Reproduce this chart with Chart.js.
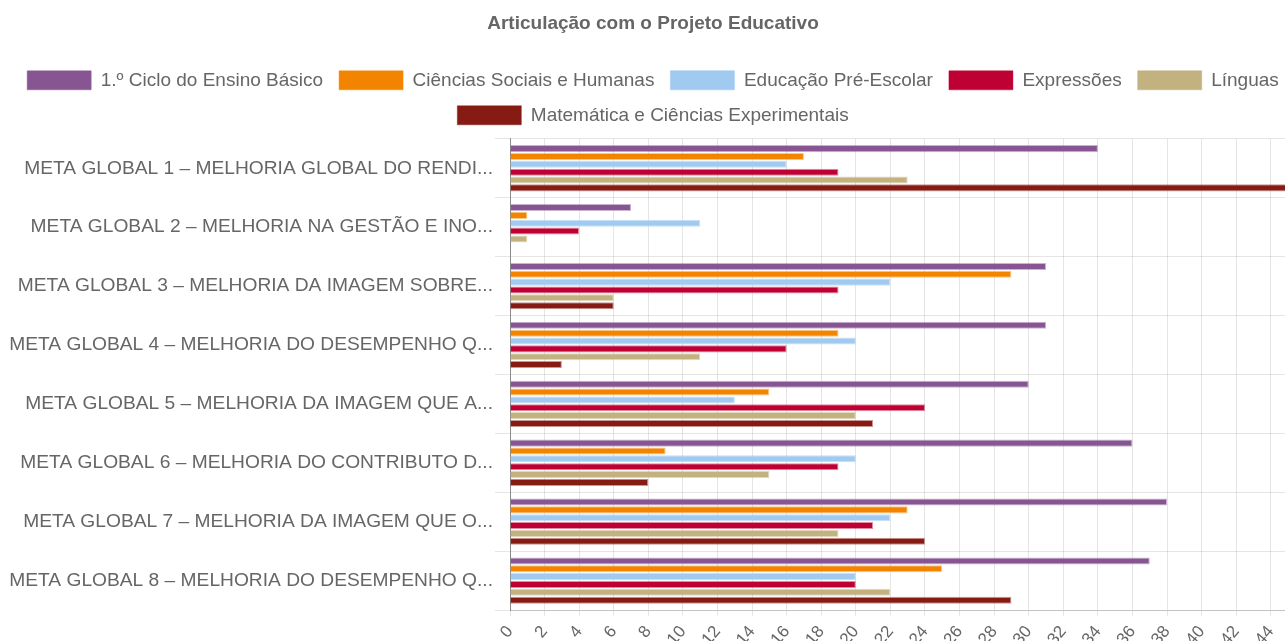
<!DOCTYPE html>
<html><head><meta charset="utf-8">
<script src="https://cdn.jsdelivr.net/npm/chart.js@4.4.0/dist/chart.umd.min.js"></script>
<style>
html,body{margin:0;padding:0;background:#fff;overflow:hidden;width:1285px;height:641px;}
#wrap{position:absolute;left:-21px;top:0;width:1348px;height:641px;}
</style></head><body>
<div id="wrap"><canvas id="c"></canvas></div>
<script>
const categories = [
  "META GLOBAL 1 – MELHORIA GLOBAL DO RENDI...",
  "META GLOBAL 2 – MELHORIA NA GESTÃO E INO...",
  "META GLOBAL 3 – MELHORIA DA IMAGEM SOBRE...",
  "META GLOBAL 4 – MELHORIA DO DESEMPENHO Q...",
  "META GLOBAL 5 – MELHORIA DA IMAGEM QUE A...",
  "META GLOBAL 6 – MELHORIA DO CONTRIBUTO D...",
  "META GLOBAL 7 – MELHORIA DA IMAGEM QUE O...",
  "META GLOBAL 8 – MELHORIA DO DESEMPENHO Q..."
];
const seriesNames = ["1.º Ciclo do Ensino Básico","Ciências Sociais e Humanas","Educação Pré-Escolar","Expressões","Línguas","Matemática e Ciências Experimentais"];
const cicloBasico      = [34, 7, 31, 31, 30, 36, 38, 37];
const cienciasSociais  = [17, 1, 29, 19, 15,  9, 23, 25];
const preEscolar       = [16, 11, 22, 20, 13, 20, 22, 20];
const expressoes       = [19, 4, 19, 16, 24, 19, 21, 20];
const linguas          = [23, 1,  6, 11, 20, 15, 19, 22];
const matematica       = [45, 0,  6,  3, 21,  8, 24, 29];
const xMin = 0, xMax = 46, xStep = 2;
const chartTitle = "Articulação com o Projeto Educativo";

const seriesValues = [cicloBasico, cienciasSociais, preEscolar, expressoes, linguas, matematica];
const colors = ["#875692","#F38400","#A1CAF1","#BE0032","#C2B280","#861B14"];
const borders = ["rgba(135,86,146,0.45)","rgba(243,132,0,0.45)","rgba(161,202,241,0.6)","rgba(190,0,50,0.45)","rgba(194,178,128,0.5)","rgba(134,27,20,0.45)"];

Chart.defaults.font.family = "'Liberation Sans', Arial, Helvetica, sans-serif";
Chart.defaults.color = "#666";

const legendGap = {
  id: 'legendGap',
  afterInit(chart) {
    const lg = chart.legend;
    if (!lg) return;
    const fit = lg.fit;
    lg.fit = function () { fit.call(this); this.height += 4; };
  }
};

new Chart(document.getElementById('c'), {
  type: 'bar',
  data: {
    labels: categories,
    datasets: seriesNames.map((n, i) => ({
      label: n,
      data: seriesValues[i],
      backgroundColor: colors[i],
      borderColor: borders[i],
      borderWidth: 1,
      categoryPercentage: 0.8,
      barPercentage: 0.9,
      clip: false
    }))
  },
  plugins: [legendGap],
  options: {
    indexAxis: 'y',
    responsive: true,
    maintainAspectRatio: false,
    animation: false,
    plugins: {
      title: { display: true, text: chartTitle, color: '#666', font: { size: 19, weight: 'bold' }, padding: { top: 12, bottom: 20 } },
      legend: { labels: { boxWidth: 64, boxHeight: 19, padding: 16, color: '#666', font: { size: 19 } } },
      tooltip: { enabled: false }
    },
    scales: {
      x: {
        min: xMin, max: xMax,
        ticks: { stepSize: xStep, minRotation: 50, maxRotation: 50, color: '#666', font: { size: 17 }, padding: 6 },
        grid: { color: 'rgba(0,0,0,0.1)', tickLength: 6 },
        border: { color: 'rgba(0,0,0,0.15)' },
        afterFit: s => { s.height = 31; }
      },
      y: {
        ticks: { color: '#666', font: { size: 19.2 }, padding: 2 },
        grid: { color: 'rgba(0,0,0,0.1)', tickLength: 15, offset: true },
        border: { color: 'rgba(0,0,0,0.4)' },
        afterFit: s => { s.width = 531; }
      }
    }
  }
});
</script>
</body></html>
